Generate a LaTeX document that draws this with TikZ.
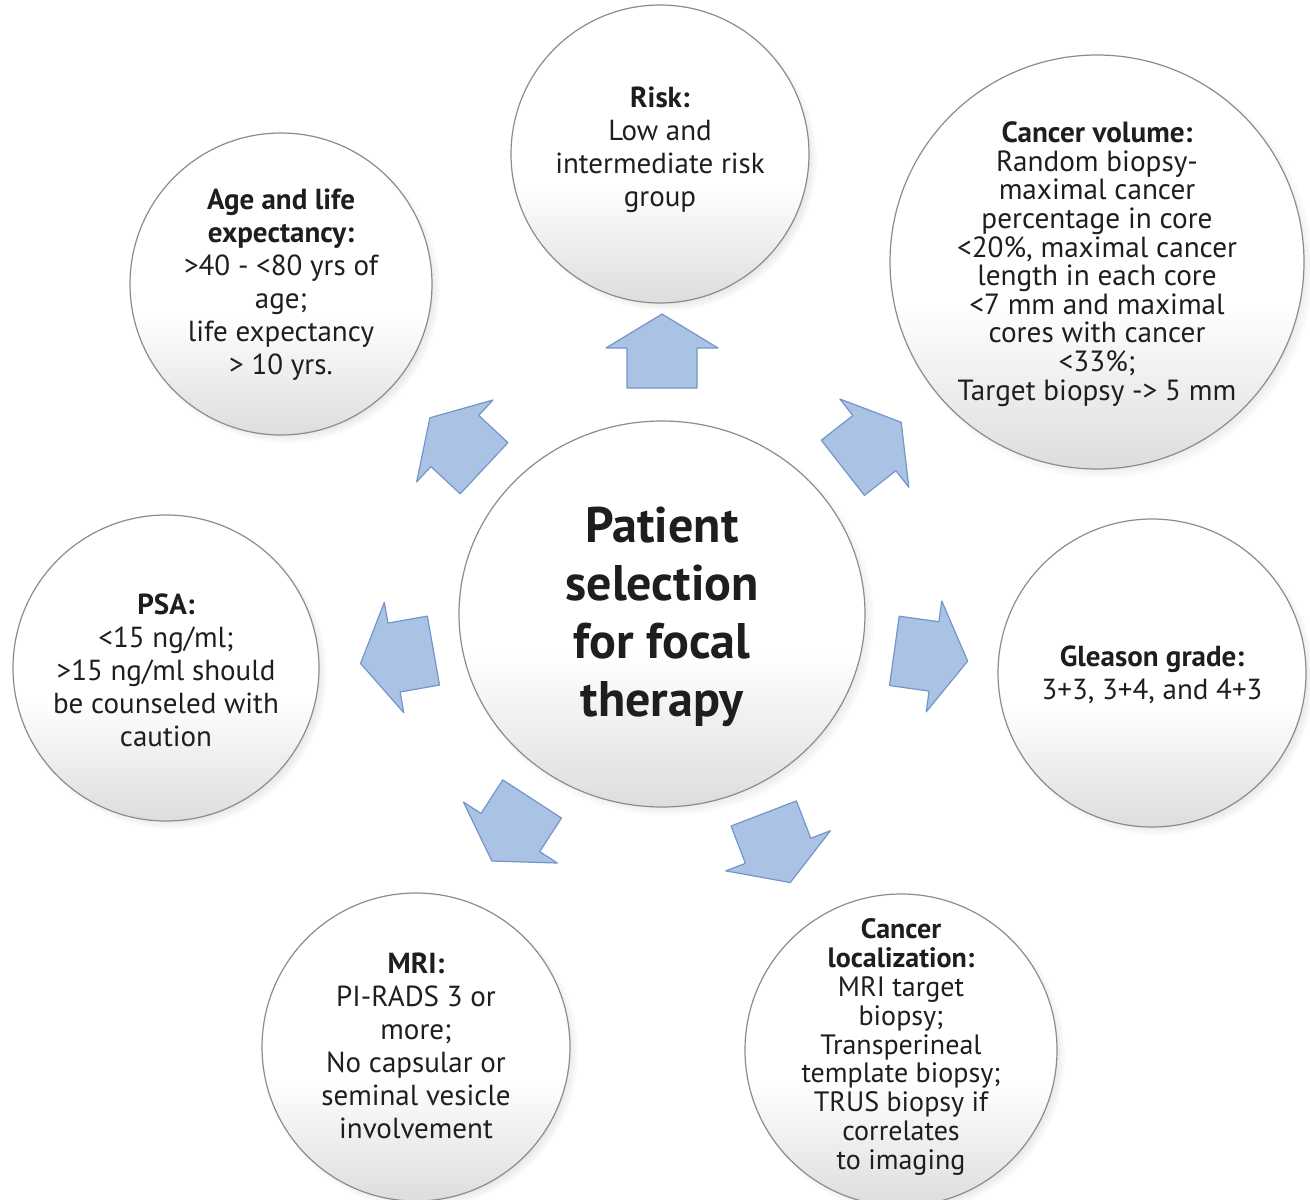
\documentclass[tikz,border=0pt]{standalone}
\usepackage{fontspec}
\setmainfont{PT Sans}
\usetikzlibrary{shadows,shapes.geometric}
\pgfdeclareverticalshading{ballshade}{100bp}{color(0bp)=(black!36); color(18bp)=(black!18); color(45bp)=(white); color(100bp)=(white)}
\definecolor{arrfill}{RGB}{170,194,228}
\definecolor{arrline}{RGB}{115,150,202}
\definecolor{txtcol}{RGB}{30,30,30}
\tikzset{
  ball/.style={circle, draw=black!45, line width=0.6pt, shading=ballshade, inner sep=0pt,
    circular drop shadow={shadow xshift=2.5pt, shadow yshift=-2.5pt, shadow scale=1.02, opacity=0.4}},
  bodytext/.style={align=center, text=txtcol, font=\fontsize{14.5}{16.5}\selectfont, inner sep=0pt},
  densetext/.style={align=center, text=txtcol, font=\fontsize{14.6}{14.3}\selectfont, inner sep=0pt},
  loctext/.style={align=center, text=txtcol, font=\fontsize{14}{14.4}\selectfont, inner sep=0pt},
  centertext/.style={align=center, text=txtcol, font=\bfseries\fontsize{25}{29}\selectfont, inner sep=0pt},
  blockarrow/.style={fill=arrfill, draw=arrline, line width=0.6pt, line join=round},
}
\newcommand{\blockarr}[2]{%
  \path[blockarrow, shift={(#1)}, rotate=#2, x=0.5pt, y=0.5pt]
    (37,0) -- (3,56) -- (3,35) -- (-37,35) -- (-37,-35) -- (3,-35) -- (3,-56) -- cycle;}
\begin{document}
\begin{tikzpicture}[x=0.5pt,y=-0.5pt]
\useasboundingbox[fill=white] (0,0) rectangle (1310,1199);

% circles
\node[ball, ellipse, minimum width=203pt, minimum height=193pt] (c) at (662,614) {};
\node[ball, minimum size=149pt] (risk) at (660,154) {};
\node[ball, minimum size=207pt] (vol) at (1097,262) {};
\node[ball, minimum size=154pt] (gl) at (1152,673) {};
\node[ball, minimum size=156pt] (loc) at (901,1050) {};
\node[ball, minimum size=154pt] (mri) at (416,1047) {};
\node[ball, minimum size=153pt] (psa) at (166,668) {};
\node[ball, minimum size=151pt] (age) at (281,284) {};

% texts
\node[centertext] (ct) at (662,617) {Patient\\selection\\for focal\\therapy};
\node[bodytext] (riskt) at (660,150) {\textbf{Risk:}\\Low and\\intermediate risk\\group};
\node[densetext] (volt) at (1097,264) {\textbf{Cancer volume:}\\Random biopsy-\\maximal cancer\\percentage in core\\<20\%, maximal cancer\\length in each core\\<7 mm and maximal\\cores with cancer\\<33\%;\\Target biopsy -> 5 mm};
\node[bodytext] (glt) at (1152,675) {\textbf{Gleason grade:}\\3+3, 3+4, and 4+3};
\node[loctext] (loct) at (901,1047) {\textbf{Cancer}\\\textbf{localization:}\\MRI target\\biopsy;\\Transperineal\\template biopsy;\\TRUS biopsy if\\correlates\\to imaging};
\node[bodytext] (mrit) at (416,1046) {\textbf{MRI:}\\PI-RADS 3 or\\more;\\No capsular or\\seminal vesicle\\involvement};
\node[bodytext] (psat) at (166,670) {\textbf{PSA:}\\<15 ng/ml;\\>15 ng/ml should\\be counseled with\\caution};
\node[bodytext] (aget) at (281,285) {\textbf{Age and life}\\\textbf{expectancy:}\\>40 - <80 yrs of\\age;\\life expectancy\\> 10 yrs.};

% arrow positions
\coordinate (a1) at (662,351);
\coordinate (a2) at (872,445);
\coordinate (a3) at (931,656);
\coordinate (a4) at (777,848);
\coordinate (a5) at (512,830);
\coordinate (a6) at (397,657);
\coordinate (a7) at (457,443);
\blockarr{a1}{90}
\blockarr{a2}{38}
\blockarr{a3}{-8}
\blockarr{a4}{-69}
\blockarr{a5}{-123}
\blockarr{a6}{190}
\blockarr{a7}{137}
\end{tikzpicture}
\end{document}
